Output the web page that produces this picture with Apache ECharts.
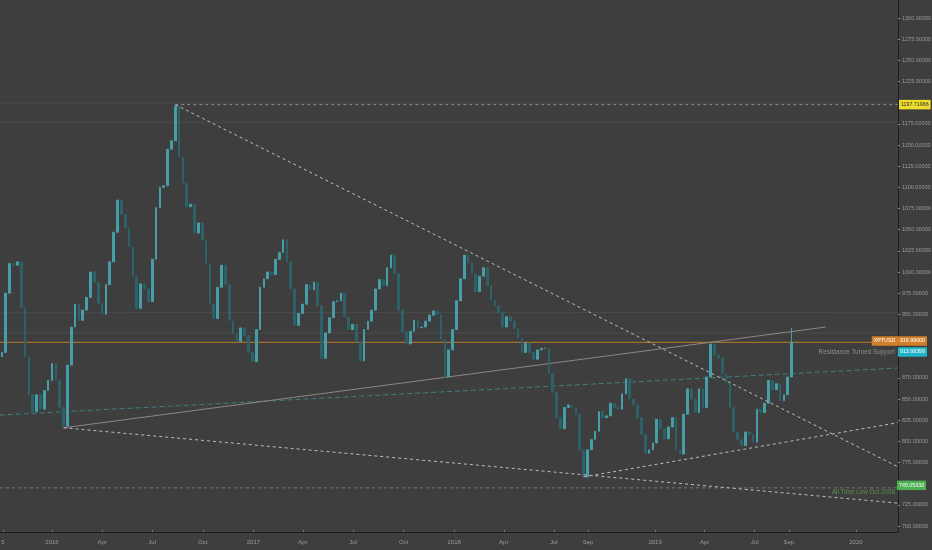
<!DOCTYPE html>
<html>
<head>
<meta charset="utf-8">
<script src="https://cdn.jsdelivr.net/npm/echarts@6.0.0/dist/echarts.min.js"></script>
<style>
html,body{margin:0;padding:0;background:#3e3e3e;}
#c{width:932px;height:550px;}
</style>
</head>
<body>
<div id="c"></div>
<script>
// ---- data ----
const firstWeek = '2015-10-02';          // weekly bars, XPTUSD
const firstOpen = 900;
const weeklyCloses = [
 905,975,1010,1008,1012,958,900,855,835,855,
 838,860,872,892,872,840,818,890,935,962,
 943,955,970,1000,988,963,950,985,1012,1047,
 1085,1068,1052,1030,995,957,986,980,965,1015,
 1076,1100,1102,1145,1155,1196,1136,1105,1077,1080,
 1046,1058,1038,1010,962,945,982,1008,985,943,
 927,918,934,925,905,894,932,982,992,1000,
 997,1015,1023,1038,1012,980,937,951,962,985,
 979,988,960,898,928,946,965,966,975,947,
 932,938,918,895,932,942,955,980,991,984,
 1005,1020,998,955,929,915,930,943,934,935,
 942,949,954,950,920,876,908,932,966,992,
 1020,1011,998,977,995,1005,984,967,960,952,
 935,947,942,933,922,905,916,905,897,908,
 910,910,880,858,828,815,840,843,840,832,
 790,758,790,802,812,835,828,830,845,840,
 838,856,874,850,843,828,808,786,790,798,
 826,815,803,817,828,790,785,832,862,850,
 834,862,840,876,915,902,898,880,870,840,
 811,802,795,811,808,799,838,834,845,872,
 861,868,848,855,876,917
];
const lastBarHigh = 934;

const xRange = ['2015-09-28T12:00:00Z', '2020-03-17T10:00:00Z'];
const yRange = [692.9, 1321.3];
const xLabelDates = ['2015-10-04','2016-01-01','2016-04-01','2016-07-01','2016-10-01','2017-01-01','2017-04-01','2017-07-01','2017-10-01','2018-01-01','2018-04-01','2018-07-01','2018-09-01','2019-01-01','2019-04-01','2019-07-01','2019-09-01','2020-01-01'];
const xLabelTexts = ['5','2016','Apr','Jul','Oct','2017','Apr','Jul','Oct','2018','Apr','Jul','Sep','2019','Apr','Jul','Sep','2020'];
const yLabelValues = [1300,1275,1250,1225,1175,1150,1125,1100,1075,1050,1025,1000,975,950,875,850,825,800,775,725,700];

// drawings
const peakLevel = 1197.71966;
const lastPrice = 916.99;
const secondPrice = 913.99399;
const allTimeLow = 745.05333;
const downTrend = [['2016-08-12', 1197.72], ['2020-03-17', 770]];
const lowerTrend = [['2016-01-22', 816], ['2020-03-17', 727]];
const supportLine = [['2016-01-22', 816], ['2019-11-07', 935]];
const risingLows = [['2018-08-24', 758], ['2020-03-17', 822]];
const tealLine = [['2015-09-28', 831], ['2020-03-17', 886.6]];
const peakRay = [['2016-08-12', 1197.72], ['2020-03-17', 1197.72]];
const faintLevels = [1199.6, 1177, 952, 928];

// ---- build ----
const DAY = 86400000;
const t0 = Date.parse(firstWeek);
const candles = weeklyCloses.map((c, i) => {
  const o = i === 0 ? firstOpen : weeklyCloses[i - 1];
  let hi = Math.max(o, c), lo = Math.min(o, c);
  if (i === weeklyCloses.length - 1) hi = Math.max(hi, lastBarHigh);
  return [t0 + i * 7 * DAY, o, c, lo, hi];
});
const xMin = Date.parse(xRange[0]), xMax = Date.parse(xRange[1]);
const xLabelTs = xLabelDates.map(d => Date.parse(d));
const pts = arr => arr.map(p => [Date.parse(p[0]), p[1]]);
function seg(data, color, type, width, z) {
  return { type: 'line', data: pts(data), symbol: 'none', silent: true, z: z || 3,
    lineStyle: { color: color, type: type, width: width || 1 }, animation: false };
}
function hline(v, color, type) {
  return seg([[xRange[0], v], [xRange[1], v]], color, type, 1, 2);
}

const chart = echarts.init(document.getElementById('c'), null, { renderer: 'canvas' });
const series = [];
faintLevels.forEach(v => series.push(hline(v, '#4b4b4b', 'solid')));
series.push(hline(allTimeLow, '#6f7d66', [3, 3]));
series.push(seg(tealLine, '#3f7f80', [5, 3], 1, 3));
series.push(seg(supportLine, '#8e8686', 'solid', 1, 3));
series.push({
  type: 'candlestick', data: candles, barWidth: 2.2, z: 4, animation: false,
  itemStyle: { color: '#479ea6', color0: '#2c6167', borderColor: '#479ea6', borderColor0: '#2c6167', borderWidth: 1 }
});
series.push(hline(lastPrice, '#c27a2a', 'solid'));
series.push(seg(peakRay, '#8a8a8a', [3, 3], 1, 5));
series.push(seg(downTrend, '#bdbdbd', [3, 3], 1, 5));
series.push(seg(lowerTrend, '#bdbdbd', [3, 3], 1, 5));
series.push(seg(risingLows, '#bdbdbd', [3, 3], 1, 5));

chart.setOption({
  backgroundColor: '#3e3e3e',
  animation: false,
  grid: { left: 0, right: 34, top: 0, bottom: 18, outerBoundsMode: 'none', containLabel: false },
  xAxis: {
    type: 'value', min: xMin, max: xMax,
    axisLine: { show: true, lineStyle: { color: '#1e1e1e', width: 1 } },
    axisTick: { show: true, inside: true, length: 2, customValues: xLabelTs, lineStyle: { color: '#777' } },
    splitLine: { show: false },
    axisLabel: {
      customValues: xLabelTs, color: '#9a9a9a', fontSize: 6, margin: 7,
      fontFamily: 'Liberation Sans, Arial, sans-serif',
      formatter: v => { const k = xLabelTs.indexOf(v); return k >= 0 ? xLabelTexts[k] : ''; }
    }
  },
  yAxis: {
    type: 'value', position: 'right', min: yRange[0], max: yRange[1],
    axisLine: { show: true, lineStyle: { color: '#1e1e1e', width: 1 } },
    axisTick: { show: true, length: 2, customValues: yLabelValues, lineStyle: { color: '#888' } },
    splitLine: { show: false },
    axisLabel: {
      customValues: yLabelValues, color: '#9a9a9a', fontSize: 5.5, margin: 4,
      fontFamily: 'Liberation Sans Narrow, Liberation Sans, Arial, sans-serif',
      formatter: v => v.toFixed(5)
    }
  },
  series: series
});

// price tags and notes, placed through the axis scales
const ax = chart.convertToPixel({ xAxisIndex: 0 }, xMax);
const yp = v => chart.convertToPixel({ yAxisIndex: 0 }, v);
const tagFont = 'Liberation Sans Narrow, Liberation Sans, Arial, sans-serif';
function tag(xAnchor, align, yc, bg, txt, fg) {
  return { type: 'text', z: 20, x: xAnchor, y: yc, style: {
    text: txt, fill: fg, fontSize: 5.3, fontFamily: tagFont, align: align, verticalAlign: 'middle',
    backgroundColor: bg, padding: [2.5, 2, 2, 2] } };
}
const yOrange = yp(lastPrice) - 1.3;
chart.setOption({ graphic: [
  tag(ax + 1, 'left', yp(peakLevel), '#eedd2c', peakLevel.toFixed(5), '#2a2a2a'),
  tag(ax + 29, 'right', yOrange, '#d27f2a', 'XPTUSD · ' + lastPrice.toFixed(5), '#ffffff'),
  tag(ax + 29, 'right', yOrange + 11, '#22b3c7', secondPrice.toFixed(5), '#ffffff'),
  tag(ax - 1, 'left', yp(allTimeLow) - 2.5, '#4caf50', allTimeLow.toFixed(5), '#ffffff'),
  { type: 'text', z: 20, x: ax - 3, y: yOrange + 11, style: { text: 'Resistance Turned Support', fill: '#8e8e8e',
    fontSize: 6.3, fontFamily: 'Liberation Sans, Arial, sans-serif', align: 'right', verticalAlign: 'middle' } },
  { type: 'text', z: 20, x: ax - 3, y: yp(allTimeLow) + 4.5, style: { text: 'All Time Low Oct 2008', fill: '#5e8c52',
    fontSize: 6.3, fontFamily: 'Liberation Sans, Arial, sans-serif', align: 'right', verticalAlign: 'middle' } }
]});
</script>
</body>
</html>
